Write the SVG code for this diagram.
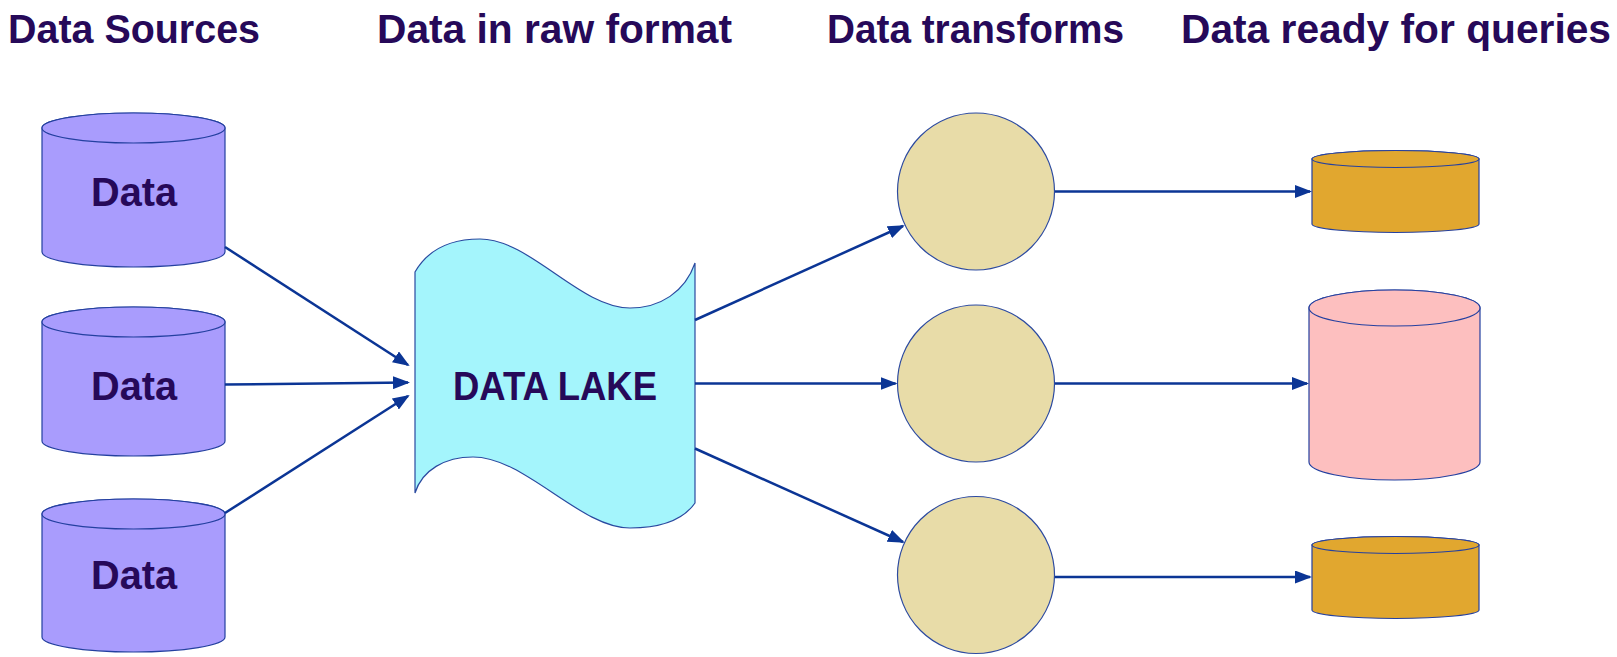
<svg xmlns="http://www.w3.org/2000/svg" width="1617" height="657" viewBox="0 0 1617 657">
<style>
.h{font-family:"Liberation Sans",Arial,sans-serif;font-weight:bold;font-size:40px;fill:#260959}
.lbl{font-family:"Liberation Sans",Arial,sans-serif;font-weight:bold;font-size:40px;fill:#260959;text-anchor:middle}
.src{fill:#a99cfd;stroke:#2440a0;stroke-width:1.2}
.gold{fill:#e1a72f;stroke:#2440a0;stroke-width:1.2}
.pink{fill:#fdbfbf;stroke:#2440a0;stroke-width:1.2}
.circ{fill:#e8dca8;stroke:#2c4aa0;stroke-width:1.2}
.lake{fill:#a4f5fc;stroke:#2a4aa0;stroke-width:1.2}
.conn line{stroke:#0b3595;stroke-width:2.5;marker-end:url(#ah)}
</style>
<defs>
<marker id="ah" markerUnits="userSpaceOnUse" markerWidth="17" markerHeight="13" refX="15" refY="6.5" orient="auto">
<path d="M0,0 L17,6.5 L0,13 Z" fill="#0b3595"/>
</marker>
</defs>
<rect width="1617" height="657" fill="#ffffff"/>
<g id="headings">
<text class="h" x="8" y="43" textLength="252" lengthAdjust="spacingAndGlyphs">Data Sources</text>
<text class="h" x="377" y="43" textLength="355" lengthAdjust="spacingAndGlyphs">Data in raw format</text>
<text class="h" x="827" y="43" textLength="297" lengthAdjust="spacingAndGlyphs">Data transforms</text>
<text class="h" x="1181" y="43" textLength="430" lengthAdjust="spacingAndGlyphs">Data ready for queries</text>
</g>
<g id="source1">
<path class="src" d="M42,128 L42,252 A91.5,15 0 0 0 225,252 L225,128 A91.5,15 0 0 0 42,128 Z"/>
<ellipse class="src" cx="133.5" cy="128" rx="91.5" ry="15"/>
<text class="lbl" x="134" y="206" textLength="86" lengthAdjust="spacingAndGlyphs">Data</text>
</g>
<g id="source2">
<path class="src" d="M42,322 L42,441 A91.5,15 0 0 0 225,441 L225,322 A91.5,15 0 0 0 42,322 Z"/>
<ellipse class="src" cx="133.5" cy="322" rx="91.5" ry="15"/>
<text class="lbl" x="134" y="400" textLength="86" lengthAdjust="spacingAndGlyphs">Data</text>
</g>
<g id="source3">
<path class="src" d="M42,514 L42,637 A91.5,15 0 0 0 225,637 L225,514 A91.5,15 0 0 0 42,514 Z"/>
<ellipse class="src" cx="133.5" cy="514" rx="91.5" ry="15"/>
<text class="lbl" x="134" y="589" textLength="86" lengthAdjust="spacingAndGlyphs">Data</text>
</g>
<g id="datalake">
<path class="lake" d="M415,272 C430,246 455,239 480,239 C530,239 580,308 630,308 C660,308 685,292 695,263 L695,503 C683,520 660,528 630,528 C580,528 525,457 473,457 C445,457 422,470 415,493 Z"/>
<text class="lbl" x="555" y="400" textLength="204" lengthAdjust="spacingAndGlyphs">DATA LAKE</text>
</g>
<g id="transform1"><circle class="circ" cx="976" cy="191.5" r="78.5"/></g>
<g id="transform2"><circle class="circ" cx="976" cy="383.5" r="78.5"/></g>
<g id="transform3"><circle class="circ" cx="976" cy="575" r="78.5"/></g>
<g id="target1">
<path class="gold" d="M1312,159 L1312,224 A83.5,8.5 0 0 0 1479,224 L1479,159 A83.5,8.5 0 0 0 1312,159 Z"/>
<ellipse class="gold" cx="1395.5" cy="159" rx="83.5" ry="8.5"/>
</g>
<g id="target2">
<path class="pink" d="M1309,308 L1309,462 A85.5,18 0 0 0 1480,462 L1480,308 A85.5,18 0 0 0 1309,308 Z"/>
<ellipse class="pink" cx="1394.5" cy="308" rx="85.5" ry="18"/>
</g>
<g id="target3">
<path class="gold" d="M1312,545 L1312,610 A83.5,8.5 0 0 0 1479,610 L1479,545 A83.5,8.5 0 0 0 1312,545 Z"/>
<ellipse class="gold" cx="1395.5" cy="545" rx="83.5" ry="8.5"/>
</g>
<g id="connectors" class="conn">
<line x1="225" y1="247" x2="408" y2="365"/>
<line x1="225" y1="384.5" x2="408" y2="382.5"/>
<line x1="225" y1="513" x2="408" y2="396"/>
<line x1="695" y1="320" x2="903" y2="226"/>
<line x1="695" y1="383.5" x2="895.5" y2="383.5"/>
<line x1="695" y1="448.5" x2="903" y2="542"/>
<line x1="1055" y1="191.5" x2="1310" y2="191.5"/>
<line x1="1055" y1="383.5" x2="1307" y2="383.5"/>
<line x1="1055" y1="577" x2="1310" y2="577"/>
</g>
</svg>
